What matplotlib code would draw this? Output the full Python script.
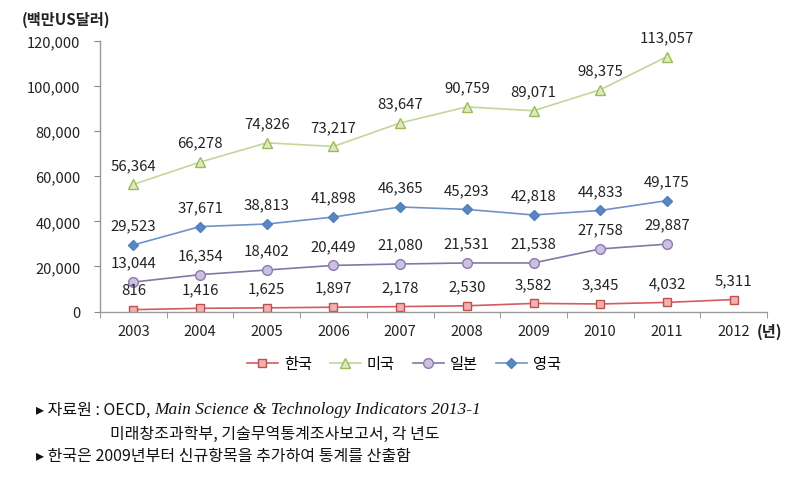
import numpy as np
import matplotlib
matplotlib.use("Agg")
import matplotlib.pyplot as plt
from matplotlib.ticker import FuncFormatter

plt.rcParams['font.family'] = ['Noto Sans CJK KR', 'DejaVu Sans']

years = ['2003', '2004', '2005', '2006', '2007', '2008', '2009', '2010', '2011', '2012']
korea = [816, 1416, 1625, 1897, 2178, 2530, 3582, 3345, 4032, 5311]
usa = [56364, 66278, 74826, 73217, 83647, 90759, 89071, 98375, 113057, np.nan]
japan = [13044, 16354, 18402, 20449, 21080, 21531, 21538, 27758, 29887, np.nan]
uk = [29523, 37671, 38813, 41898, 46365, 45293, 42818, 44833, 49175, np.nan]
series_names = ['한국', '미국', '일본', '영국']
y_ticks = [0, 20000, 40000, 60000, 80000, 100000, 120000]

fig = plt.figure(figsize=(8.05, 4.81), dpi=100)
ax = fig.add_axes([100/805, 1-312.5/481, 667/805, (312.5-42)/481])

x = np.arange(len(years))
styles = [
    (korea, dict(color='#d65a5e', marker='s', ms=6, mfc='#f2b1b1', mec='#c0504d', mew=1.0, lw=1.2)),
    (usa, dict(color='#c3d69b', marker='^', ms=7, mfc='#dfe9bf', mec='#9bbb59', mew=1.0, lw=1.2)),
    (japan, dict(color='#8078a8', marker='o', ms=7, mfc='#cbc0df', mec='#8c7ab0', mew=1.0, lw=1.2)),
    (uk, dict(color='#6f93c6', marker='D', ms=5.5, mfc='#5b85c2', mec='#4f81bd', mew=1.0, lw=1.2)),
]
for (vals, st), name in zip(styles, series_names):
    ax.plot(x, vals, label=name, **st)
    for xi, v in zip(x, vals):
        if np.isnan(v):
            continue
        ax.annotate(f"{int(v):,}", (xi, v), xytext=(0, 14), textcoords='offset points',
                    ha='center', va='center', fontsize=10.8, color='#222222')

ax.set_xlim(-0.5, len(years) - 0.5)
ax.set_ylim(0, 120000)
ax.set_yticks(y_ticks)
ax.yaxis.set_major_formatter(FuncFormatter(lambda v, p: f"{int(v):,}"))
ax.set_xticks(x)
ax.set_xticklabels(years)
ax.set_xticks(np.arange(-0.5, len(years)), minor=True)
ax.tick_params(axis='x', which='major', length=0, pad=9, labelsize=10.5, labelcolor='#222222')
ax.tick_params(axis='x', which='minor', length=4, color='#888888', direction='out')
ax.tick_params(axis='y', length=4, color='#888888', labelsize=10.5, labelcolor='#222222', pad=10)
for s in ['top', 'right']:
    ax.spines[s].set_visible(False)
for s in ['left', 'bottom']:
    ax.spines[s].set_color('#9a9a9a')
    ax.spines[s].set_linewidth(1.0)
ax.set_facecolor('none')

fig.text(22/805, 1-20/481, '(백만US달러)', fontsize=11, fontweight='bold', va='center', ha='left', color='#222222')
fig.text(757/805, 1-332/481, '(년)', fontsize=11, fontweight='bold', va='center', ha='left', color='#222222')

fig.legend(loc='center', bbox_to_anchor=(404/805, 1-365/481), ncol=4, frameon=False,
           fontsize=11, handlelength=2.0, columnspacing=1.2, handletextpad=0.4)

# Notes
note_fs = 11.5
t1 = fig.text(36/805, 1-410/481, '▸ 자료원 : OECD, ', fontsize=note_fs, va='center', ha='left',
              family=['Noto Sans CJK KR', 'DejaVu Sans'], color='#111111')
plt.annotate('Main Science & Technology Indicators 2013-1', xy=(1, 0.5), xycoords=t1,
             va='center', ha='left', fontsize=12.5, fontstyle='italic',
             family=['Liberation Serif'], color='#111111', annotation_clip=False)
fig.text(110/805, 1-434/481, '미래창조과학부, 기술무역통계조사보고서, 각 년도', fontsize=note_fs,
         va='center', ha='left', color='#111111')
fig.text(36/805, 1-457/481, '▸ 한국은 2009년부터 신규항목을 추가하여 통계를 산출함', fontsize=note_fs,
         va='center', ha='left', family=['Noto Sans CJK KR', 'DejaVu Sans'], color='#111111')

fig.savefig('out.png', dpi=100)
